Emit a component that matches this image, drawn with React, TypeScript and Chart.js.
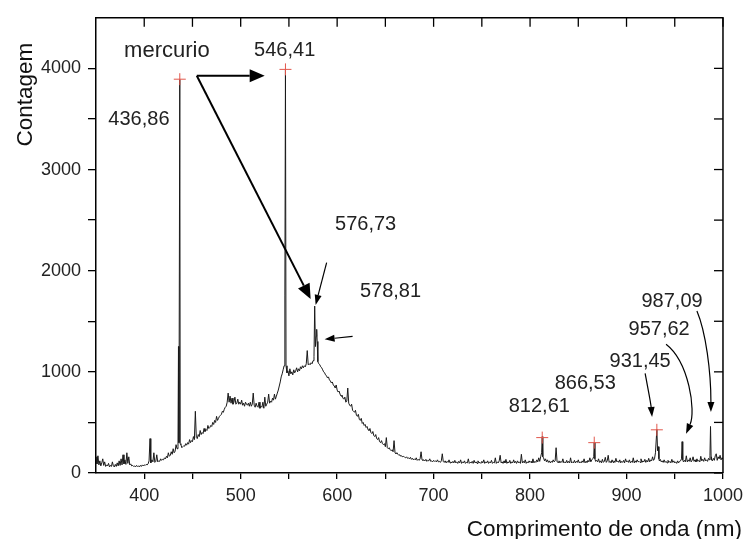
import React, { useEffect, useRef } from "react";
import { Chart, registerables } from "chart.js";

Chart.register(...registerables);

const FONT = '"Liberation Sans", Arial, Helvetica, sans-serif';

// Spectrum: [wavelength nm, counts]
const spectrum: [number, number][] = [
  [350, 160], [351, 90], [352, 170], [353, 80], [354, 120], [355, 70], [356, 100], [357, 140], [358, 75], [359, 110],
  [360, 65], [361, 80], [362, 70], [363, 95], [364, 60], [365, 75], [366, 65], [367, 110], [368, 70], [369, 60],
  [370, 85], [371, 65], [372, 100], [373, 70], [374, 120], [375, 75], [376, 140], [377, 80], [378, 180], [379, 90],
  [380, 130], [381, 85], [382, 200], [383, 95], [384, 160], [385, 80], [386, 90], [387, 70], [388, 75], [389, 65],
  [390, 70], [391, 60], [392, 75], [393, 65], [394, 70], [395, 60], [396, 75], [397, 65], [398, 80], [399, 70],
  [400, 80], [401, 75], [402, 85], [403, 80], [404, 90], [405, 120], [406, 340], [406.6, 120], [407, 100], [408, 130],
  [409, 110], [410, 200], [411, 105], [412, 115], [413, 180], [414, 110], [415, 120], [416, 115], [417, 140], [418, 125],
  [419, 135], [420, 130], [421, 150], [422, 140], [423, 165], [424, 150], [425, 200], [426, 165], [427, 175], [428, 210],
  [429, 185], [430, 240], [431, 200], [432, 215], [433, 280], [434, 240], [435, 260], [435.5, 1250], [436, 300], [436.86, 3890],
  [437.3, 290], [438, 280], [439, 250], [440, 260], [441, 270], [442, 265], [443, 290], [444, 275], [445, 300], [446, 285],
  [447, 330], [448, 300], [449, 320], [450, 310], [451, 360], [452, 330], [453, 610], [454, 350], [455, 340], [456, 380],
  [457, 360], [458, 420], [459, 380], [460, 400], [461, 390], [462, 440], [463, 410], [464, 430], [465, 420], [466, 470],
  [467, 440], [468, 450], [469, 470], [470, 460], [471, 500], [472, 480], [473, 520], [474, 500], [475, 560], [476, 520],
  [477, 540], [478, 560], [479, 570], [480, 580], [481, 610], [482, 600], [483, 630], [484, 650], [485, 660], [486, 700],
  [487, 790], [488, 700], [489, 760], [490, 690], [491, 740], [492, 680], [493, 700], [494, 750], [495, 680], [496, 690],
  [497, 730], [498, 680], [499, 700], [500, 680], [501, 720], [502, 670], [503, 690], [504, 660], [505, 700], [506, 680],
  [507, 670], [508, 690], [509, 660], [510, 700], [511, 660], [512, 680], [513, 790], [514, 670], [515, 650], [516, 690],
  [517, 660], [518, 650], [519, 700], [520, 640], [521, 660], [522, 650], [523, 700], [524, 640], [525, 750], [526, 660],
  [527, 680], [528, 700], [529, 780], [530, 690], [531, 710], [532, 700], [533, 740], [534, 720], [535, 780], [536, 730],
  [537, 760], [538, 790], [539, 820], [540, 860], [541, 900], [542, 950], [543, 980], [544, 1020], [545, 1060], [545.8, 1750],
  [546.41, 3990], [547, 1060], [548, 990], [549, 1010], [550, 960], [551, 1030], [552, 980], [553, 1000], [554, 970], [555, 1020],
  [556, 990], [557, 1010], [558, 1040], [559, 1000], [560, 1030], [561, 1010], [562, 1050], [563, 1030], [564, 1060], [565, 1040],
  [566, 1060], [567, 1050], [568, 1080], [569, 1210], [570, 1070], [571, 1080], [572, 1070], [573, 1090], [574, 1080], [575, 1110],
  [576, 1150], [576.73, 1650], [577.5, 1250], [578.3, 1350], [578.81, 1420], [579.3, 1300], [580, 1100], [581, 1080], [582, 1070], [583, 1050],
  [584, 1040], [585, 1020], [586, 1000], [587, 990], [588, 970], [589, 960], [590, 940], [591, 950], [592, 920], [593, 910],
  [594, 890], [595, 900], [596, 870], [597, 860], [598, 840], [599, 870], [600, 820], [601, 800], [602, 810], [603, 780],
  [604, 760], [605, 770], [606, 740], [607, 730], [608, 750], [609, 700], [610, 710], [611, 840], [612, 690], [613, 670],
  [614, 660], [615, 680], [616, 620], [617, 610], [618, 600], [619, 620], [620, 570], [621, 560], [622, 580], [623, 530],
  [624, 520], [625, 540], [626, 490], [627, 500], [628, 470], [629, 480], [630, 450], [631, 460], [632, 430], [633, 420],
  [634, 440], [635, 400], [636, 390], [637, 410], [638, 370], [639, 360], [640, 380], [641, 340], [642, 330], [643, 350],
  [644, 310], [645, 300], [646, 320], [647, 290], [648, 280], [649, 290], [650, 260], [651, 350], [652, 250], [653, 240],
  [654, 250], [655, 230], [656, 220], [657, 230], [658, 210], [659, 320], [660, 200], [661, 190], [662, 200], [663, 185],
  [664, 175], [665, 180], [666, 165], [667, 170], [668, 160], [669, 165], [670, 155], [671, 150], [672, 160], [673, 145],
  [674, 150], [675, 140], [676, 155], [677, 135], [678, 145], [679, 130], [680, 140], [681, 130], [682, 150], [683, 125],
  [684, 135], [685, 125], [686, 140], [687, 210], [688, 130], [689, 125], [690, 130], [691, 120], [692, 135], [693, 115],
  [694, 125], [695, 120], [696, 140], [697, 115], [698, 120], [699, 110], [700, 125], [701, 115], [702, 120], [703, 110],
  [704, 130], [705, 110], [706, 115], [707, 105], [708, 120], [709, 190], [710, 115], [711, 105], [712, 120], [713, 100],
  [714, 115], [715, 105], [716, 130], [717, 100], [718, 110], [719, 100], [720, 115], [721, 100], [722, 125], [723, 100],
  [724, 110], [725, 95], [726, 115], [727, 100], [728, 130], [729, 95], [730, 110], [731, 100], [732, 120], [733, 95],
  [734, 105], [735, 100], [736, 140], [737, 95], [738, 105], [739, 100], [740, 115], [741, 95], [742, 125], [743, 100],
  [744, 110], [745, 95], [746, 120], [747, 100], [748, 105], [749, 95], [750, 115], [751, 100], [752, 130], [753, 95],
  [754, 110], [755, 100], [756, 120], [757, 95], [758, 110], [759, 100], [760, 125], [761, 95], [762, 105], [763, 100],
  [764, 150], [765, 95], [766, 110], [767, 100], [768, 120], [769, 175], [770, 100], [771, 110], [772, 95], [773, 120],
  [774, 100], [775, 135], [776, 95], [777, 110], [778, 100], [779, 125], [780, 95], [781, 110], [782, 100], [783, 130],
  [784, 100], [785, 115], [786, 95], [787, 120], [788, 100], [789, 110], [790, 95], [791, 185], [792, 100], [793, 115],
  [794, 100], [795, 130], [796, 95], [797, 110], [798, 100], [799, 120], [800, 105], [801, 115], [802, 100], [803, 140],
  [804, 100], [805, 115], [806, 105], [807, 130], [808, 110], [809, 150], [810, 115], [811, 160], [812, 200], [812.61, 360],
  [813.2, 160], [814, 150], [815, 120], [816, 140], [817, 110], [818, 130], [819, 105], [820, 120], [821, 100], [822, 115],
  [823, 105], [824, 130], [825, 110], [826, 120], [827, 250], [828, 110], [829, 105], [830, 120], [831, 100], [832, 115],
  [833, 105], [834, 140], [835, 100], [836, 110], [837, 100], [838, 125], [839, 100], [840, 115], [841, 100], [842, 150],
  [843, 100], [844, 110], [845, 100], [846, 125], [847, 100], [848, 115], [849, 105], [850, 130], [851, 100], [852, 110],
  [853, 100], [854, 120], [855, 105], [856, 140], [857, 100], [858, 115], [859, 105], [860, 125], [861, 110], [862, 150],
  [863, 110], [864, 130], [865, 140], [866, 160], [866.53, 300], [867.2, 140], [868, 115], [869, 125], [870, 110], [871, 140],
  [872, 105], [873, 120], [874, 100], [875, 135], [876, 105], [877, 115], [878, 155], [879, 105], [880, 120], [881, 175],
  [882, 105], [883, 115], [884, 100], [885, 130], [886, 105], [887, 120], [888, 105], [889, 145], [890, 110], [891, 120],
  [892, 105], [893, 130], [894, 100], [895, 115], [896, 105], [897, 125], [898, 100], [899, 140], [900, 110], [901, 120],
  [902, 105], [903, 130], [904, 100], [905, 115], [906, 105], [907, 150], [908, 100], [909, 120], [910, 105], [911, 130],
  [912, 110], [913, 115], [914, 105], [915, 140], [916, 105], [917, 120], [918, 110], [919, 135], [920, 105], [921, 125],
  [922, 110], [923, 145], [924, 110], [925, 130], [926, 120], [927, 160], [928, 125], [929, 140], [930, 200], [931.45, 430],
  [932.2, 220], [933, 260], [933.6, 140], [934, 120], [935, 135], [936, 110], [937, 120], [938, 105], [939, 130], [940, 105],
  [941, 115], [942, 100], [943, 125], [944, 105], [945, 115], [946, 100], [947, 135], [948, 105], [949, 120], [950, 100],
  [951, 110], [952, 95], [953, 120], [954, 100], [955, 115], [956, 120], [957, 140], [957.62, 310], [958.3, 130], [959, 110],
  [960, 125], [961, 110], [962, 170], [963, 110], [964, 130], [965, 115], [966, 150], [967, 110], [968, 125], [969, 160],
  [970, 115], [971, 130], [972, 110], [973, 140], [974, 115], [975, 125], [976, 110], [977, 165], [978, 120], [979, 135],
  [980, 115], [981, 150], [982, 120], [983, 130], [984, 115], [985, 145], [986, 130], [986.5, 170], [987.09, 460], [987.7, 160],
  [988, 130], [989, 120], [990, 145], [991, 125], [992, 170], [993, 190], [994, 125], [995, 160], [996, 140], [997, 175],
  [998, 130], [999, 150], [1000, 140],
];

// Red cross markers on identified peaks
const peakNm = [436.86, 546.41, 812.61, 866.53, 931.45];
const peakCounts = [3893, 3990, 350, 300, 427];

// Axis ticks
const xTickValues = [400, 450, 500, 550, 600, 650, 700, 750, 800, 850, 900, 950, 1000];
const yTickValues = [0, 500, 1000, 1500, 2000, 2500, 3000, 3500, 4000];

// Annotation labels (baseline-centre anchor in data units)
const labelTexts = ["546,41", "436,86", "576,73", "578,81", "987,09", "957,62", "931,45", "866,53", "812,61"];
const labelNm = [545.6, 394.5, 629.5, 655.3, 947.2, 933.8, 914.1, 857.2, 809.6];
const labelCounts = [4126, 3438, 2401, 1737, 1643, 1367, 1050, 833, 606];
const headingText = "mercurio";
const headingNm = 423.5;
const headingCount = 4111;

// Arrow paths in data units (2 points: straight, 4 points: bezier)
const arrowPaths: [number, number][][] = [
  [[454.5, 3927], [524.9, 3927]],
  [[454.5, 3927], [572.5, 1720]],
  [[589.1, 2080], [577.7, 1662]],
  [[616.0, 1351], [587.0, 1322]],
  [[919.3, 984], [921.9, 850], [925.0, 704], [926.5, 554]],
  [[941.0, 1273], [964.8, 1098], [972.0, 612], [961.7, 389]],
  [[973.0, 1601], [982.3, 1390], [987.5, 1001], [987.5, 603]],
];

const xTitle = "Comprimento de onda (nm)";
const yTitle = "Contagem";

const decorPlugin = {
  id: "decor",
  afterDraw(chart: any) {
    const { ctx, chartArea, scales } = chart;
    const { left, right, top, bottom } = chartArea;
    const x = scales.x;
    const y = scales.y;
    ctx.save();
    // mirror frame top/right with inward ticks
    ctx.strokeStyle = "#000";
    ctx.lineWidth = 1.5;
    ctx.beginPath();
    ctx.moveTo(left, top);
    ctx.lineTo(right, top);
    ctx.lineTo(right, bottom);
    ctx.stroke();
    ctx.lineWidth = 1.3;
    xTickValues.forEach((v) => {
      const px = x.getPixelForValue(v);
      ctx.beginPath();
      ctx.moveTo(px, top);
      ctx.lineTo(px, top + 9);
      ctx.stroke();
    });
    yTickValues.forEach((v) => {
      const py = y.getPixelForValue(v);
      ctx.beginPath();
      ctx.moveTo(right, py);
      ctx.lineTo(right - 9, py);
      ctx.stroke();
    });

    // labels
    ctx.fillStyle = "#222";
    ctx.textAlign = "center";
    ctx.textBaseline = "alphabetic";
    ctx.font = `20px ${FONT}`;
    labelTexts.forEach((t, i) => {
      ctx.fillText(t, x.getPixelForValue(labelNm[i]), y.getPixelForValue(labelCounts[i]));
    });
    ctx.font = `22px ${FONT}`;
    ctx.fillText(headingText, x.getPixelForValue(headingNm), y.getPixelForValue(headingCount));

    // arrows
    arrowPaths.forEach((path, i) => {
      const big = i < 2;
      const pts = path.map(([a, b]) => [x.getPixelForValue(a), y.getPixelForValue(b)]);
      const headLen = big ? 15 : 10;
      const headW = big ? 13 : 7;
      const tip = pts[pts.length - 1];
      const prev = pts[pts.length - 2];
      const ang = Math.atan2(tip[1] - prev[1], tip[0] - prev[0]);
      const bx = tip[0] - Math.cos(ang) * headLen;
      const by = tip[1] - Math.sin(ang) * headLen;
      ctx.strokeStyle = "#000";
      ctx.fillStyle = "#000";
      ctx.lineWidth = big ? 2 : 1.2;
      ctx.beginPath();
      ctx.moveTo(pts[0][0], pts[0][1]);
      if (pts.length === 4) {
        ctx.bezierCurveTo(pts[1][0], pts[1][1], pts[2][0], pts[2][1], bx, by);
      } else {
        ctx.lineTo(bx, by);
      }
      ctx.stroke();
      ctx.beginPath();
      ctx.moveTo(tip[0], tip[1]);
      ctx.lineTo(bx + (Math.sin(ang) * headW) / 2, by - (Math.cos(ang) * headW) / 2);
      ctx.lineTo(bx - (Math.sin(ang) * headW) / 2, by + (Math.cos(ang) * headW) / 2);
      ctx.closePath();
      ctx.fill();
    });

    // axis titles
    ctx.fillStyle = "#111";
    ctx.font = `22.5px ${FONT}`;
    ctx.textAlign = "right";
    ctx.textBaseline = "alphabetic";
    ctx.fillText(xTitle, right + 19, bottom + 63);
    ctx.save();
    ctx.translate(left - 64, top + 25);
    ctx.rotate(-Math.PI / 2);
    ctx.textAlign = "right";
    ctx.fillText(yTitle, 0, 0);
    ctx.restore();
    ctx.restore();
  },
};

export default function App() {
  const ref = useRef<HTMLCanvasElement | null>(null);
  useEffect(() => {
    if (!ref.current) return;
    const tickFont = { family: FONT, size: 18 };
    const chart = new Chart(ref.current, {
      type: "line",
      data: {
        datasets: [
          {
            label: "spectrum",
            data: spectrum.map(([a, b]) => ({ x: a, y: b })),
            borderColor: "#1a1a1a",
            borderWidth: 1,
            pointRadius: 0,
            tension: 0,
            fill: false,
            order: 2,
          },
          {
            type: "scatter",
            label: "peaks",
            data: peakNm.map((a, i) => ({ x: a, y: peakCounts[i] })),
            pointStyle: "cross",
            pointRadius: 6,
            borderColor: "#e2574c",
            backgroundColor: "#e2574c",
            borderWidth: 1,
            showLine: false,
            order: 1,
          } as any,
        ],
      },
      options: {
        responsive: false,
        animation: false,
        layout: { padding: { left: 0, right: 25, top: 10, bottom: 0 } },
        plugins: { legend: { display: false }, tooltip: { enabled: false } },
        scales: {
          x: {
            type: "linear",
            min: 350,
            max: 1000,
            afterBuildTicks: (s: any) => {
              s.ticks = xTickValues.map((v) => ({ value: v }));
            },
            afterFit: (s: any) => {
              s.height = 66;
            },
            ticks: {
              callback: (v: any) => (Number(v) % 100 === 0 ? String(v) : ""),
              font: tickFont,
              color: "#222",
              padding: 6,
              maxRotation: 0,
              autoSkip: false,
            },
            grid: { drawOnChartArea: false, drawTicks: true, tickLength: 6, color: "#000", lineWidth: 1.3 },
            border: { display: true, color: "#000", width: 1.5 },
          },
          y: {
            type: "linear",
            min: 0,
            max: 4500,
            afterBuildTicks: (s: any) => {
              s.ticks = yTickValues.map((v) => ({ value: v }));
            },
            afterFit: (s: any) => {
              s.width = 96;
            },
            ticks: {
              callback: (v: any) => (Number(v) % 1000 === 0 ? String(v) : ""),
              font: tickFont,
              color: "#222",
              padding: 7,
              autoSkip: false,
            },
            grid: { drawOnChartArea: false, drawTicks: true, tickLength: 8, color: "#000", lineWidth: 1.3 },
            border: { display: true, color: "#000", width: 1.5 },
          },
        },
      },
      plugins: [decorPlugin],
    });
    return () => chart.destroy();
  }, []);
  return (
    <div style={{ position: "fixed", left: 0, top: 0, width: 749, height: 539, background: "#fff" }}>
      <canvas ref={ref} width={749} height={539} style={{ width: 749, height: 539, display: "block" }} />
    </div>
  );
}
